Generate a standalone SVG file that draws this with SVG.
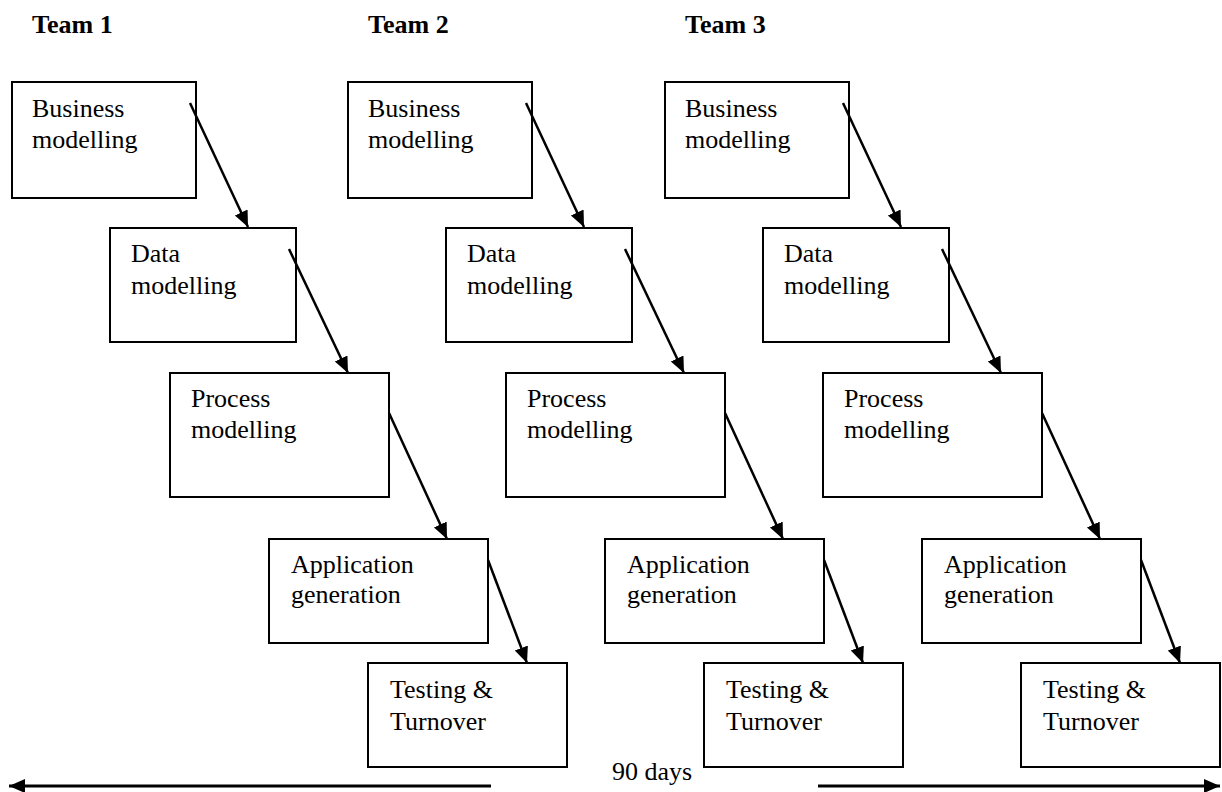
<svg xmlns="http://www.w3.org/2000/svg" width="1222" height="792" viewBox="0 0 1222 792">
<style>
.box{fill:#fff;stroke:#000;stroke-width:2}
.t{font-family:"Liberation Serif","Times New Roman",serif;font-size:26px;fill:#000}
.h{font-family:"Liberation Serif","Times New Roman",serif;font-size:26px;font-weight:bold;fill:#000}
.c{stroke:#000;stroke-width:2.5;fill:none}
.b{stroke:#000;stroke-width:3;fill:none}
</style>
<defs>
<marker id="ah" markerUnits="userSpaceOnUse" markerWidth="18" markerHeight="16" refX="16" refY="7" orient="auto">
<path d="M0,0 L16,7 L0,14 Z" fill="#000"/>
</marker>
<g id="team">
<rect class="box" x="12" y="82" width="184" height="116"/>
<text class="t" x="32" y="117">Business</text><text class="t" x="32" y="148">modelling</text>
<rect class="box" x="110" y="228" width="186" height="114"/>
<text class="t" x="131" y="262">Data</text><text class="t" x="131" y="294">modelling</text>
<rect class="box" x="170" y="373" width="219" height="124"/>
<text class="t" x="191" y="407">Process</text><text class="t" x="191" y="438">modelling</text>
<rect class="box" x="269" y="539" width="219" height="104"/>
<text class="t" x="291" y="573">Application</text><text class="t" x="291" y="603">generation</text>
<rect class="box" x="368" y="663" width="199" height="104"/>
<text class="t" x="390" y="698">Testing &amp;</text><text class="t" x="390" y="730">Turnover</text>
</g>
<g id="arrows">
<line class="c" x1="190" y1="103" x2="248" y2="227" marker-end="url(#ah)"/>
<line class="c" x1="289" y1="249" x2="348" y2="373" marker-end="url(#ah)"/>
<line class="c" x1="389" y1="413" x2="447" y2="539" marker-end="url(#ah)"/>
<line class="c" x1="488" y1="560" x2="527" y2="663" marker-end="url(#ah)"/>
</g>
</defs>
<text class="h" x="32" y="33">Team 1</text>
<text class="h" x="368" y="33">Team 2</text>
<text class="h" x="685" y="33">Team 3</text>
<g id="team1"><use href="#team"/></g>
<g id="team2"><use href="#team" x="336"/></g>
<g id="team3"><use href="#team" x="653"/></g>
<g id="connectors">
<use href="#arrows"/>
<use href="#arrows" x="336"/>
<use href="#arrows" x="653"/>
<line class="b" x1="491" y1="786" x2="9" y2="786" marker-end="url(#ah)"/>
<line class="b" x1="818" y1="786" x2="1220" y2="786" marker-end="url(#ah)"/>
</g>
<text class="t" x="612" y="780">90 days</text>
</svg>
